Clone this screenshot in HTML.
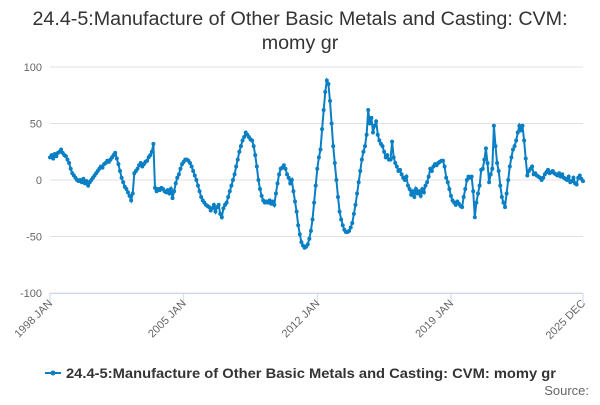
<!DOCTYPE html>
<html><head><meta charset="utf-8"><style>
body{margin:0;width:600px;height:400px;background:#fff;font-family:"Liberation Sans",sans-serif;overflow:hidden}
</style></head><body>
<svg width="600" height="400" id="svg">
<text x="300" y="25" text-anchor="middle" font-size="19.7" fill="#333">24.4-5:Manufacture of Other Basic Metals and Casting: CVM:</text>
<text x="300" y="49" text-anchor="middle" font-size="19.7" fill="#333">momy gr</text>
<g id="grid"></g><g id="ylabels"></g><g id="xlabels"></g>
<path id="line" fill="none" stroke="#0a7fc4" stroke-width="2"></path>
<g id="pts"></g>
<g>
<line x1="45" y1="373" x2="61" y2="373" stroke="#0a7fc4" stroke-width="2"/>
<circle cx="53" cy="373" r="2.5" fill="#0a7fc4"/>
<text x="66" y="378" font-size="13.5" font-weight="bold" fill="#333" textLength="490" lengthAdjust="spacingAndGlyphs">24.4-5:Manufacture of Other Basic Metals and Casting: CVM: momy gr</text>
</g>
<text x="589" y="395" text-anchor="end" font-size="13" fill="#666">Source:</text>
</svg>
<script>
const values=[
20,22,19,23,21,24,25,27,
24,22,21,18,15,10,6,4,2,0,
-1,0,-2,1,-3,-1,-5,
-2,0,2,4,6,8,10,12,11,14,15,17,16,18,20,22,24,
19,14,8,2,-2,-6,-8,-11,-14,-18,
-12,6,
8,10,13,15,12,14,16,17,20,22,25,32,
-7,-10,-8,-9,-7,-8,-10,-11,-9,-12,-8,-16,
-10,-3,2,5,10,14,16,18,
18,17,15,12,8,4,0,-5,-10,-15,-18,-20,-22,-23,-24,-27,-25,-22,-28,-24,-22,-30,-33,
-25,-22,-20,-15,-10,-5,0,5,12,18,25,30,35,38,42,
40,38,36,35,30,22,12,0,-8,-14,-18,
-20,-19,-20,-18,-21,-19,-22,
-12,-3,5,10,11,13,
10,5,2,-3,
0,-10,-19,-28,-40,-48,-55,-58,-60,
-59,-57,-52,-45,-35,-20,-5,10,20,27,
45,62,78,88,
85,70,50,30,15,0,-15,-28,-35,-40,-44,-46,-46,
-45,-42,-38,-30,-22,-12,-2,8,18,25,30,40,62,
50,55,42,48,52,40,35,32,30,25,20,22,18,18,
34,20,15,12,8,9,
5,2,0,3,-5,-8,-13,
-10,-15,-8,-12,-10,-14,-8,-11,-5,
-2,3,10,8,12,14,13,15,16,17,17,
12,2,-2,-8,-14,-18,
-20,-22,-19,-21,-23,-24,
-15,-8,0,3,2,3,-10,-33,
-20,-12,-5,9,10,18,28,
15,-2,5,10,48,
30,15,8,-5,-15,-20,-24,
-12,0,12,20,27,30,35,42,48,
44,48,35,19,
4,8,10,12,5,6,4,3,2,0,2,5,7,9,6,7,8,6,5,4,6,3,5,2,1,0,3,-2,-1,2,-3,-4,2,4,1,-1];
const yTicks=[100,50,0,-50,-100];
const xTickLabels=["1998 JAN","2005 JAN","2012 JAN","2019 JAN","2025 DEC"];
const xTickIdx=[0,84,168,252,335];
const NS="http://www.w3.org/2000/svg";
const X0=50,X1=583,Y0=180,SC=1.13;
const NMAX=335;
const xs=i=>X0+(X1-X0)*i/NMAX;
const ys=v=>Y0-v*SC;
function mk(t,a,p){const e=document.createElementNS(NS,t);for(const k in a)e.setAttribute(k,a[k]);p.appendChild(e);return e;}
const grid=document.getElementById('grid'),yl=document.getElementById('ylabels'),xl=document.getElementById('xlabels');
yTicks.forEach(v=>{
 const l=mk('line',{x1:X0,x2:X1,y1:ys(v),y2:ys(v),stroke:'#e0e0e0','stroke-width':1},grid);
 
 
 const t=mk('text',{x:X0-8,y:ys(v)+4,'text-anchor':'end','font-size':11,fill:'#666'},yl);
 t.textContent=v;
 
 
});
const ax=mk('line',{x1:X0,x2:X1,y1:293.5,y2:293.5,stroke:'#ccd6eb','stroke-width':1},grid);


xTickIdx.forEach((idx,k)=>{
 const x=xs(idx);
 const tk=mk('line',{x1:x,x2:x,y1:293,y2:303,stroke:'#ccd6eb'},grid);
 
 
 const t=mk('text',{x:x+3,y:304,'text-anchor':'end','font-size':11,fill:'#666',transform:`rotate(-45 ${x+3} 304)`},xl);
 t.textContent=xTickLabels[k];
 
 
});
let d='';values.forEach((v,i)=>{d+=(i?'L':'M')+xs(i).toFixed(1)+','+ys(v).toFixed(1);});
document.getElementById('line').setAttribute('d',d);
const pts=document.getElementById('pts');
values.forEach((v,i)=>{
 const c=mk('circle',{cx:xs(i),cy:ys(v),r:2,fill:'#0a7fc4'},pts);
 
 
});
</script>
</body></html>
